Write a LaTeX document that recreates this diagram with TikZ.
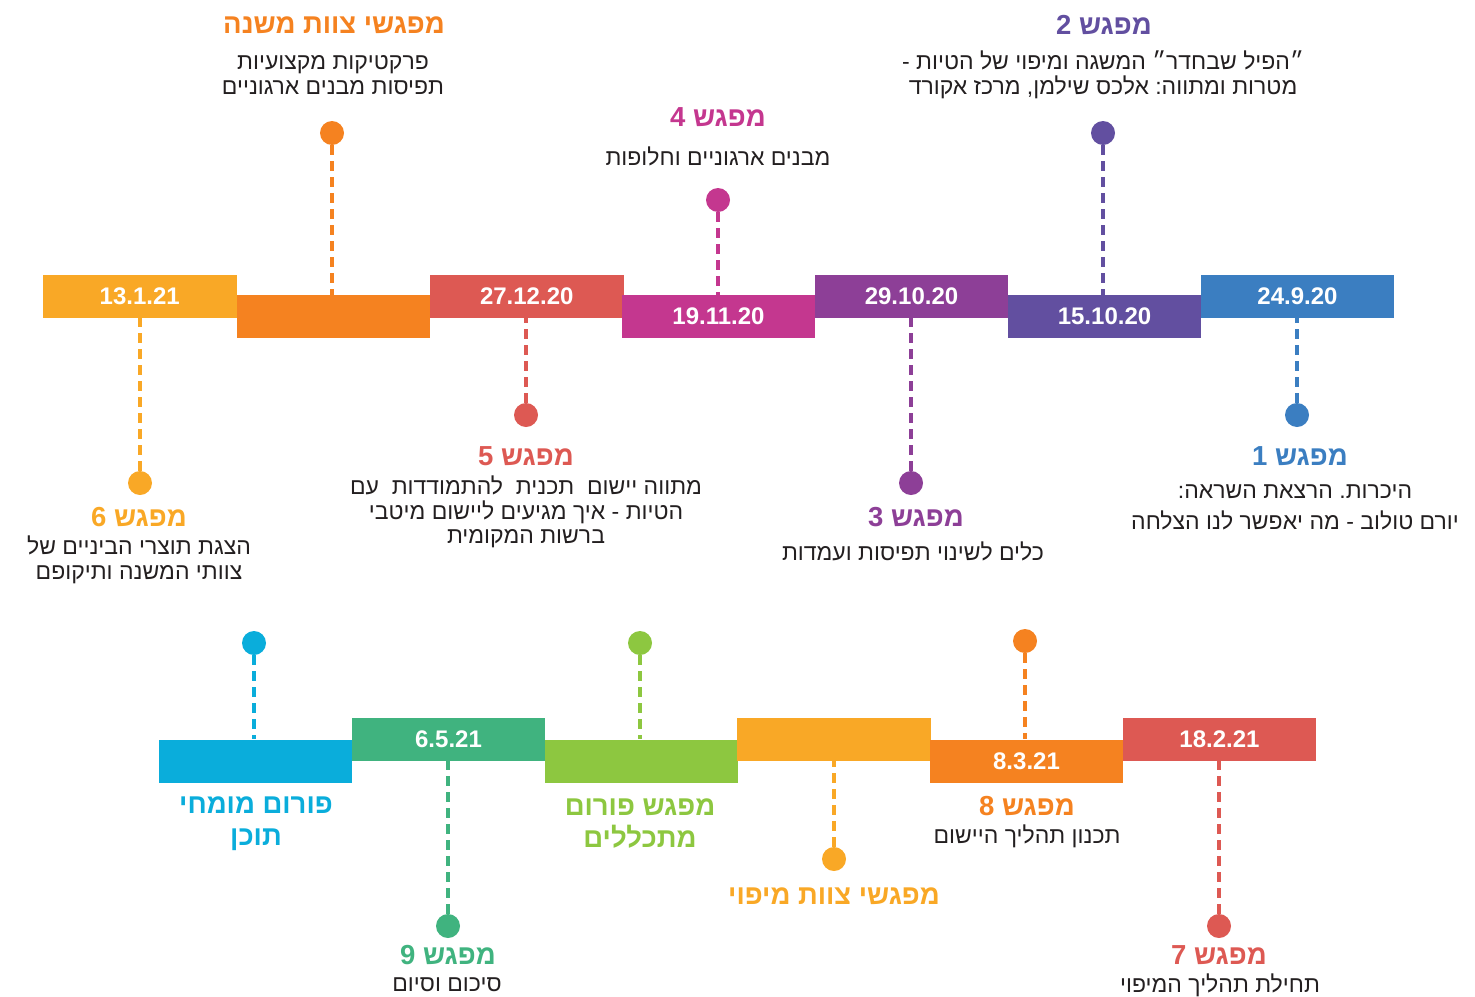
\documentclass[tikz,border=0pt]{standalone}
\usepackage{fontspec}
\setmainfont{Liberation Sans}
\newfontfamily\hebfont[Script=Hebrew]{Liberation Sans}
\TeXXeTstate=1
\frenchspacing
\newcommand{\heb}[1]{\beginR #1\endR}
\definecolor{cyellow}{HTML}{F9A826}
\definecolor{corange}{HTML}{F58220}
\definecolor{cred}{HTML}{DD5953}
\definecolor{cmagenta}{HTML}{C4378F}
\definecolor{cpurple}{HTML}{8D3F97}
\definecolor{cviolet}{HTML}{624FA0}
\definecolor{cblue}{HTML}{3B7EC1}
\definecolor{ccyan}{HTML}{0AADDB}
\definecolor{cgreen}{HTML}{40B37F}
\definecolor{clime}{HTML}{8DC740}
\definecolor{ctext}{HTML}{231F20}
\begin{document}
\begin{tikzpicture}[x=1pt,y=-1pt,
  bar/.style={minimum width=193.5pt,minimum height=43pt,inner sep=0pt,text=white,
    font=\fontsize{24}{26}\selectfont\bfseries},
  dot/.style={circle,minimum size=24pt,inner sep=0pt},
  stem/.style={line width=3.5pt,dash pattern=on 10pt off 6pt},
  title/.style={font=\hebfont\fontsize{27.5}{32}\selectfont\bfseries,inner sep=0pt},
  body/.style={font=\hebfont\fontsize{23}{24.5}\selectfont,text=ctext,align=center,inner sep=0pt}]
\useasboundingbox (0,0) rectangle (1475,996);
%\draw[pink, fill] (0,0) rectangle (1475,996);
% top row
\node[bar,fill=cyellow] (b13) at (139.75,296.5) {13.1.21};
\node[bar,fill=corange] (bsub) at (333.25,316.5) {};
\node[bar,fill=cred] (b27) at (526.75,296.5) {27.12.20};
\node[bar,fill=cmagenta] (b19) at (718.5,316.5) {19.11.20};
\node[bar,fill=cpurple] (b29) at (911.5,296.5) {29.10.20};
\node[bar,fill=cviolet] (b15) at (1104.5,316.5) {15.10.20};
\node[bar,fill=cblue] (b24) at (1297.5,296.5) {24.9.20};

\node[dot,fill=corange] (dsub) at (332,133) {};
\node[dot,fill=cmagenta] (d4) at (718,200) {};
\node[dot,fill=cviolet] (d2) at (1103,133) {};
\node[dot,fill=cyellow] (d6) at (140,483) {};
\node[dot,fill=cred] (d5) at (526,415) {};
\node[dot,fill=cpurple] (d3) at (911,483) {};
\node[dot,fill=cblue] (d1) at (1297,415) {};

\draw[stem,corange] (dsub) -- (dsub |- bsub.north);
\draw[stem,cmagenta] (d4) -- (d4 |- b19.north);
\draw[stem,cviolet] (d2) -- (d2 |- b15.north);
\draw[stem,cyellow] (d6) -- (d6 |- b13.south);
\draw[stem,cred] (d5) -- (d5 |- b27.south);
\draw[stem,cpurple] (d3) -- (d3 |- b29.south);
\draw[stem,cblue] (d1) -- (d1 |- b24.south);

\node[title,text=corange] (tsub) at (334,25) {\heb{מפגשי צוות משנה}};
\node[body] (xsub) at (333,75) {\heb{פרקטיקות מקצועיות}\\\heb{תפיסות מבנים ארגוניים}};
\node[title,text=cmagenta] (t4) at (718,117) {\heb{מפגש 4}};
\node[body] (x4) at (718,156) {\heb{מבנים ארגוניים וחלופות}};
\node[title,text=cviolet] (t2) at (1104,25) {\heb{מפגש 2}};
\node[body] (x2) at (1103,75) {\heb{״הפיל שבחדר״ המשגה ומיפוי של הטיות -}\\\heb{מטרות ומתווה: אלכס שילמן, מרכז אקורד}};
\node[title,text=cyellow] (t6) at (139,517) {\heb{מפגש 6}};
\node[body] (x6) at (139,560) {\heb{הצגת תוצרי הביניים של}\\\heb{צוותי המשנה ותיקופם}};
\node[title,text=cred] (t5) at (526,456) {\heb{מפגש 5}};
\node[body] (x5) at (526,512) {\heb{מתווה יישום\ \ תכנית\ \ להתמודדות\ \ עם}\\\heb{הטיות - איך מגיעים ליישום מיטבי}\\\heb{ברשות המקומית}};
\node[title,text=cpurple] (t3) at (916,517) {\heb{מפגש 3}};
\node[body] (x3) at (913,551) {\heb{כלים לשינוי תפיסות ועמדות}};
\node[title,text=cblue] (t1) at (1300,456) {\heb{מפגש 1}};
\node[body,font=\hebfont\fontsize{23}{31}\selectfont] (x1) at (1295,507) {\heb{היכרות. הרצאת השראה:}\\\heb{יורם טולוב - מה יאפשר לנו הצלחה}};

% bottom row
\node[bar,fill=ccyan] (bexp) at (255.5,761) {};
\node[bar,fill=cgreen] (b6) at (448.5,739.5) {6.5.21};
\node[bar,fill=clime] (bint) at (641.5,761) {};
\node[bar,fill=cyellow] (bmap) at (834,739.5) {};
\node[bar,fill=corange] (b8) at (1026.5,761) {8.3.21};
\node[bar,fill=cred] (b18) at (1219.5,739.5) {18.2.21};

\node[dot,fill=ccyan] (dexp) at (254,643) {};
\node[dot,fill=clime] (dint) at (640,643) {};
\node[dot,fill=corange] (d8) at (1025,641) {};
\node[dot,fill=cgreen] (d9) at (448,926) {};
\node[dot,fill=cyellow] (dmap) at (834,859) {};
\node[dot,fill=cred] (d7) at (1219,926) {};

\draw[stem,ccyan] (dexp) -- (dexp |- bexp.north);
\draw[stem,clime] (dint) -- (dint |- bint.north);
\draw[stem,corange] (d8) -- (d8 |- b8.north);
\draw[stem,cgreen] (d9) -- (d9 |- b6.south);
\draw[stem,cyellow] (dmap) -- (dmap |- bmap.south);
\draw[stem,cred] (d7) -- (d7 |- b18.south);

\node[title,text=ccyan,align=center] (texp) at (256,824) {\heb{פורום מומחי}\\\heb{תוכן}};
\node[title,text=clime,align=center] (tint) at (640,824) {\heb{מפגש פורום}\\\heb{מתכללים}};
\node[title,text=cyellow] (tmap) at (834,896) {\heb{מפגשי צוות מיפוי}};
\node[title,text=corange] (t8) at (1027,806) {\heb{מפגש 8}};
\node[body] (x8) at (1027,836) {\heb{תכנון תהליך היישום}};
\node[title,text=cgreen] (t9) at (448,955) {\heb{מפגש 9}};
\node[body] (x9) at (447,985) {\heb{סיכום וסיום}};
\node[title,text=cred] (t7) at (1219,955) {\heb{מפגש 7}};
\node[body] (x7) at (1220,985) {\heb{תחילת תהליך המיפוי}};
\end{tikzpicture}
\end{document}
